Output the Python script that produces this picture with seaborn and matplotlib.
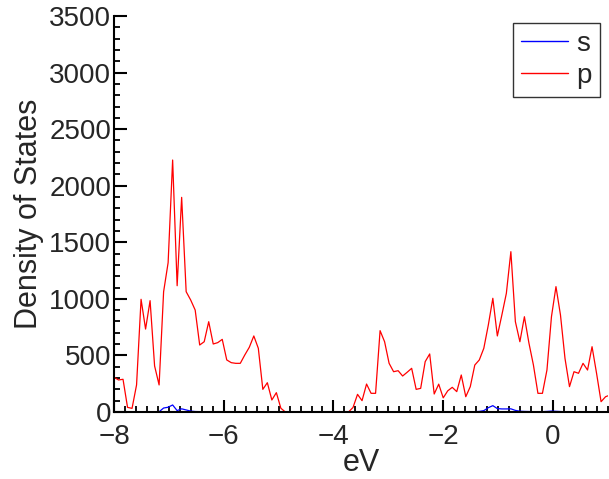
import numpy as np
import pandas as pd
import matplotlib
matplotlib.use("Agg")
import matplotlib.pyplot as plt
from matplotlib.ticker import MultipleLocator
import seaborn as sns

# Projected density of states on an evenly spaced energy grid (eV)
e_start = -8.0
e_step = 0.0822

dos_p = [307, 283, 289, 41, 32, 239, 996, 733, 984, 407,
         239, 1063, 1320, 2227, 1116, 1897, 1063, 990, 901, 592,
         621, 798, 601, 613, 642, 460, 436, 430, 430, 504,
         572, 672, 563, 200, 259, 106, 171, 33, 0, 0,
         0, 0, 0, 0, 0, 0, 0, 0, 0, 0,
         0, 0, 0, 40, 156, 100, 247, 165, 165, 719,
         621, 430, 356, 365, 318, 351, 386, 200, 209, 445,
         513, 159, 246, 125, 187, 218, 180, 327, 135, 224,
         415, 460, 563, 769, 1005, 672, 857, 1049, 1417, 798,
         621, 842, 610, 415, 165, 165, 371, 842, 1108, 857,
         474, 224, 356, 342, 430, 371, 577, 342, 91, 135,
         150]

dos_s = [0, 0, 0, 0, 0, 0, 0, 0, 0, 0,
         2, 35, 42, 62, 12, 28, 18, 8, 4, 3,
         2, 2, 2, 2, 2, 2, 2, 2, 2, 2,
         2, 2, 2, 1, 1, 1, 1, 1, 0, 0,
         0, 0, 0, 0, 0, 0, 0, 0, 0, 0,
         0, 0, 0, 1, 1, 1, 1, 1, 1, 2,
         2, 2, 2, 2, 2, 2, 2, 2, 2, 2,
         2, 2, 2, 2, 2, 2, 2, 2, 2, 3,
         3, 5, 12, 38, 56, 30, 27, 27, 28, 14,
         7, 5, 4, 3, 2, 3, 5, 8, 6, 4,
         2, 2, 2, 2, 2, 2, 2, 2, 2, 2,
         2]

orbitals = ["s", "p"]
colors = {"s": "#0000ff", "p": "#ff0000"}

energy = e_start + e_step * np.arange(len(dos_p))
df = pd.concat([
    pd.DataFrame({"energy": energy, "dos": dos_s, "orbital": "s"}),
    pd.DataFrame({"energy": energy, "dos": dos_p, "orbital": "p"}),
], ignore_index=True)

sns.set_style("ticks")
plt.rcParams["font.family"] = ["Liberation Sans", "DejaVu Sans"]

fig = plt.figure(figsize=(6.09, 4.79), dpi=100)
ax = fig.add_axes([0.1872, 0.1399, 0.998 - 0.1872, 0.9666 - 0.1399])

sns.lineplot(data=df, x="energy", y="dos", hue="orbital", hue_order=orbitals,
             palette=colors, linewidth=0.9, estimator=None, sort=False, ax=ax)

ax.set_xlim(-8, 1.0)
ax.set_ylim(0, 3500)
ax.xaxis.set_major_locator(MultipleLocator(2))
ax.xaxis.set_minor_locator(MultipleLocator(0.2))
ax.yaxis.set_major_locator(MultipleLocator(500))
ax.yaxis.set_minor_locator(MultipleLocator(100))
ax.tick_params(which="major", direction="in", length=9, width=1.5,
               labelsize=20, color="black")
ax.tick_params(which="minor", direction="in", length=4.5, width=1.3, color="black")
ax.tick_params(axis="x", which="major", pad=9)
ax.tick_params(axis="y", which="major", pad=2)

for side in ("top", "right"):
    ax.spines[side].set_visible(False)
for side in ("left", "bottom"):
    ax.spines[side].set_linewidth(1.5)
    ax.spines[side].set_color("black")

ax.set_xlabel("eV", fontsize=22, labelpad=-2)
ax.set_ylabel("Density of States", fontsize=22, labelpad=4)

handles, labels = ax.get_legend_handles_labels()
leg = ax.legend(handles, labels, loc="upper right", bbox_to_anchor=(0.984, 0.983),
                fontsize=20, frameon=True, fancybox=False, framealpha=1,
                edgecolor="#333333", handlelength=1.7, handletextpad=0.3,
                borderpad=0.29, labelspacing=0.22, borderaxespad=0)
leg.get_frame().set_linewidth(1.0)
for line in leg.get_lines():
    line.set_linewidth(1.0)

fig.savefig("out.png", dpi=100)
